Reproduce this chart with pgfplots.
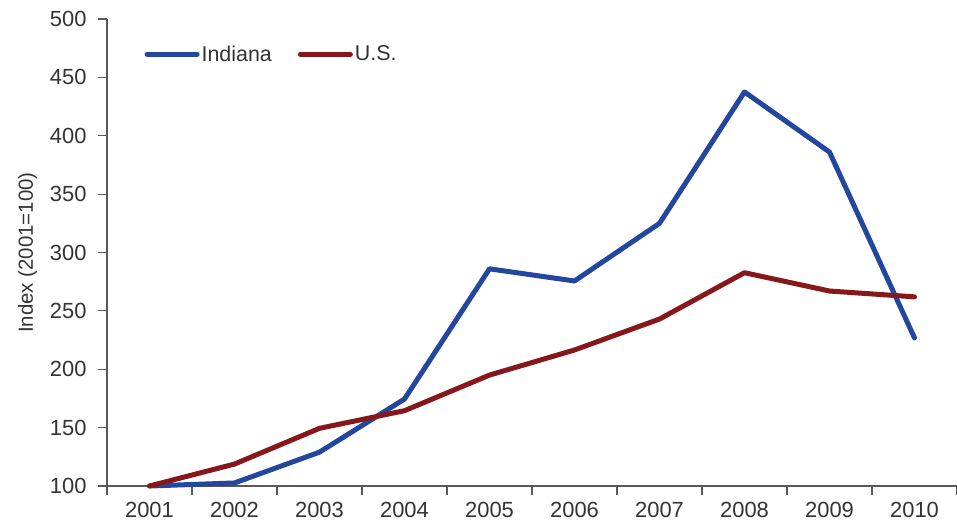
\documentclass[border=0pt]{standalone}
\usepackage{pgfplots}
\pgfplotsset{compat=1.18}
\usepackage{fontspec}
\setmainfont{Liberation Sans}

\definecolor{indblue}{RGB}{35,71,158}
\definecolor{usred}{RGB}{134,24,28}
\definecolor{axisgray}{RGB}{89,89,89}
\definecolor{txtgray}{RGB}{51,51,51}

\begin{document}
\begin{tikzpicture}
    \useasboundingbox (-107bp,-40bp) rectangle (850bp,486bp);
    \begin{axis}[
            at={(0,0)}, anchor=south west,
            scale only axis,
            width=850bp, height=467bp,
            xmin=-0.5, xmax=9.5,
            ymin=100, ymax=500,
            axis x line=bottom, axis y line=left,
            axis line style={-, axisgray, line width=1.2bp},
            xtick={0,...,9},
            xticklabels={2001,2002,2003,2004,2005,2006,2007,2008,2009,2010},
            minor xtick={-0.5,0.5,...,9.5},
            ytick={100,150,...,500},
            tick align=outside,
            major x tick style={draw=none},
            minor tick length=9bp,
            major tick length=9bp,
            tick style={axisgray, line width=1.2bp},
            /pgf/number format/assume math mode=true,
            tick label style={font=\fontsize{22}{26}\selectfont, text=txtgray},
            xticklabel style={yshift=-6bp, inner ysep=1bp},
            yticklabel style={xshift=-8bp},
            ylabel={Index (2001=100)},
            ylabel style={font=\fontsize{20.5}{24}\selectfont, text=txtgray, yshift=6bp},
            clip=false,
            legend columns=2,
            legend cell align=left,
            legend style={draw=none, fill=none, inner sep=0pt,
                    at={(rel axis cs:0.044,0.925)}, anchor=west,
                    font=\fontsize{21.5}{25}\selectfont, text=txtgray,
                    nodes={inner xsep=2bp},
                    /tikz/every even column/.append style={column sep=24bp}},
            legend image code/.code={\draw[#1, line cap=round] (0bp,0bp) -- (50bp,0bp);},
        ]

        \addplot[indblue, line width=5bp, line join=round, line cap=round]
        coordinates {
                (0,100)(1,102.6)(2,129)(3,174.5)(4,286)(5,275.6)(6,325)(7,437.5)(8,386)(9,226.8)
            };
        \addplot[usred, line width=5bp, line join=round, line cap=round]
        coordinates {
                (0,100)(1,118.8)(2,149.4)(3,164.5)(4,195)(5,216.5)(6,243)(7,282.7)(8,267)(9,262)
            };
        \legend{Indiana,U.S.}

    \end{axis}
\end{tikzpicture}
\end{document}
